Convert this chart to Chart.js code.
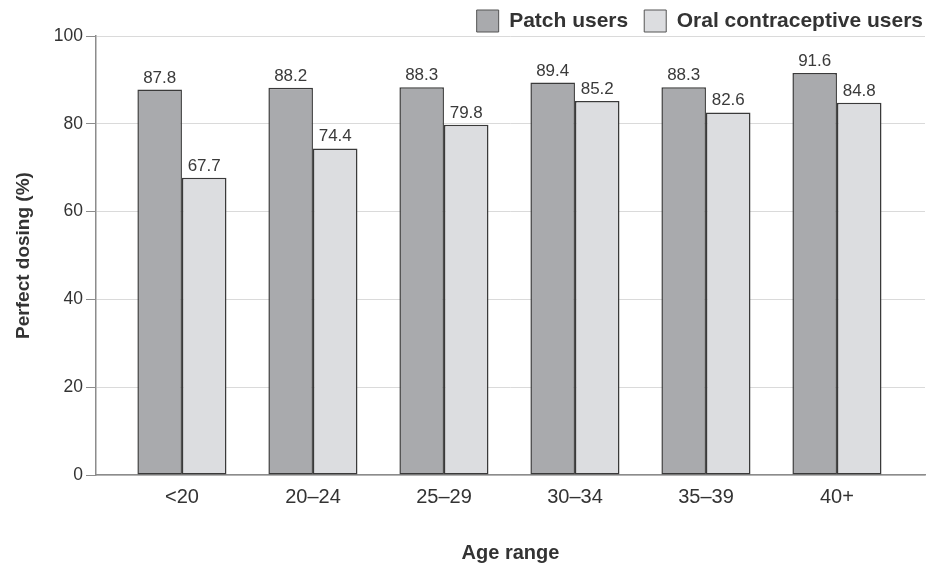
<!DOCTYPE html>
<html>
<head>
<meta charset="utf-8">
<script src="https://cdn.jsdelivr.net/npm/chart.js@4.4.1/dist/chart.umd.min.js"></script>
<style>
html,body{margin:0;padding:0;background:#fff;}
#wrap{width:927px;height:567px;position:relative;}
</style>
</head>
<body>
<div id="wrap"><canvas id="c"></canvas></div>
<script>
const categories = ["<20", "20\u201324", "25\u201329", "30\u201334", "35\u201339", "40+"];
const patchUsers = [87.8, 88.2, 88.3, 89.4, 88.3, 91.6];
const oralUsers = [67.7, 74.4, 79.8, 85.2, 82.6, 84.8];
const yTicks = [0, 20, 40, 60, 80, 100];

const FONT = "'Liberation Sans', Arial, sans-serif";

const valueLabels = {
  id: 'valueLabels',
  afterDatasetsDraw(chart) {
    const ctx = chart.ctx;
    ctx.save();
    ctx.font = "17px " + FONT;
    ctx.fillStyle = '#3a3a3a';
    ctx.textAlign = 'center';
    ctx.textBaseline = 'alphabetic';
    chart.data.datasets.forEach((ds, di) => {
      const meta = chart.getDatasetMeta(di);
      meta.data.forEach((el, i) => {
        ctx.fillText(ds.data[i].y.toFixed(1), el.x, el.y - 7);
      });
    });
    ctx.restore();
  }
};

// keep the legend compact vertically and flush right, like the reference
const legendTweak = {
  id: 'legendTweak',
  afterInit(chart) {
    const lg = chart.legend;
    if (!lg) return;
    const origFit = lg.fit.bind(lg);
    lg.fit = function () {
      origFit();
      this.height = 42;
    };
  },
  afterLayout(chart) {
    const lg = chart.legend;
    if (!lg) return;
    lg.left += 14;
    lg.right += 14;
  }
};

new Chart(document.getElementById('c'), {
  type: 'bar',
  data: {
    datasets: [
      {
        label: 'Patch users',
        data: patchUsers.map((v, i) => ({x: i, y: v})),
        backgroundColor: '#a9aaad',
        borderColor: '#3a3a3a',
        borderWidth: 1.5,
        borderSkipped: false,
        categoryPercentage: 0.68,
        barPercentage: 1.0
      },
      {
        label: 'Oral contraceptive users',
        data: oralUsers.map((v, i) => ({x: i, y: v})),
        backgroundColor: '#dcdde0',
        borderColor: '#3a3a3a',
        borderWidth: 1.5,
        borderSkipped: false,
        categoryPercentage: 0.68,
        barPercentage: 1.0
      }
    ]
  },
  options: {
    responsive: true,
    maintainAspectRatio: false,
    animation: false,
    layout: {padding: {left: 0, right: 2, top: -6, bottom: 0}},
    plugins: {
      tooltip: {enabled: false},
      legend: {
        position: 'top',
        align: 'end',
        labels: {
          boxWidth: 22,
          boxHeight: 22,
          padding: 16,
          color: '#333',
          font: {family: FONT, size: 21, weight: 'bold'},
          generateLabels(chart) {
            return chart.data.datasets.map((ds, i) => ({
              text: ds.label,
              fillStyle: ds.backgroundColor,
              strokeStyle: '#555',
              lineWidth: 1,
              datasetIndex: i,
              fontColor: '#333'
            }));
          }
        }
      }
    },
    scales: {
      x: {
        type: 'linear',
        min: -0.656,
        max: 5.672,
        offset: false,
        afterBuildTicks(scale) {
          scale.ticks = categories.map((_, i) => ({value: i}));
        },
        ticks: {
          autoSkip: false,
          maxRotation: 0,
          color: '#333',
          padding: 2,
          font: {family: FONT, size: 20},
          callback(value) { return categories[value]; }
        },
        grid: {display: false},
        border: {display: true, color: '#8c8c8c', width: 1.5},
        title: {
          display: true,
          text: 'Age range',
          color: '#333',
          font: {family: FONT, size: 20, weight: 'bold'},
          padding: {top: 30, bottom: 2}
        }
      },
      y: {
        min: 0,
        max: 100,
        afterBuildTicks(scale) {
          scale.ticks = yTicks.map(v => ({value: v}));
        },
        afterFit(scale) {
          scale.width = 96;
        },
        ticks: {
          color: '#333',
          padding: 3,
          font: {family: FONT, size: 17.5}
        },
        grid: {
          color: '#dadada',
          lineWidth: 1,
          tickLength: 10,
          tickColor: '#8c8c8c'
        },
        border: {display: true, color: '#8c8c8c', width: 1.5},
        title: {
          display: true,
          text: 'Perfect dosing (%)',
          color: '#333',
          font: {family: FONT, size: 19, weight: 'bold'},
          padding: {top: 12, bottom: 0}
        }
      }
    }
  },
  plugins: [valueLabels, legendTweak]
});
</script>
</body>
</html>
